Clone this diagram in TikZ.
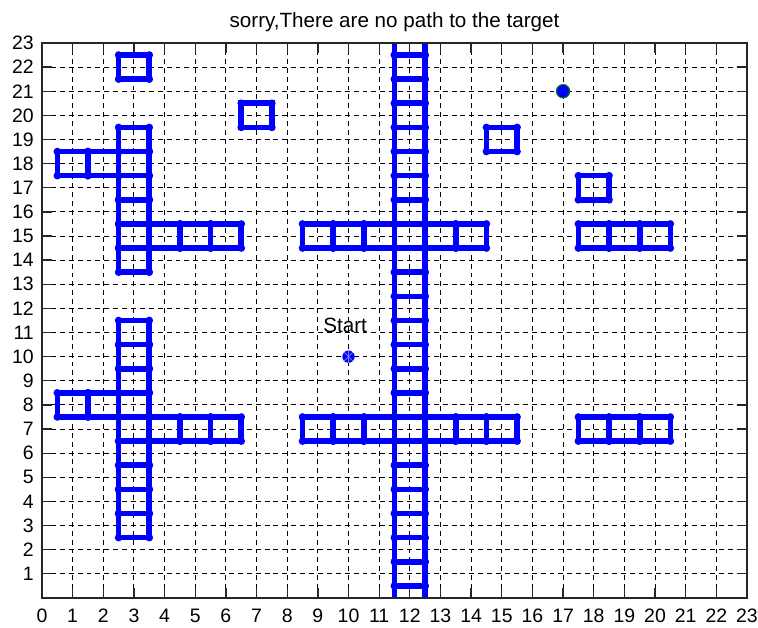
\documentclass[tikz,border=0pt]{standalone}
\usepackage{fontspec}
\setmainfont{Liberation Sans}
\usetikzlibrary{positioning}
\usepackage{xcolor}
\definecolor{PlotBlue}{HTML}{0000FF}
\definecolor{PlotGreen}{HTML}{008000}
\definecolor{PlotLightBlue}{HTML}{8080FF}
\definecolor{AxisGrey}{HTML}{262626}
\tikzset{
    % Axes and grid
    gridline/.style={
        draw=black,
        line width=0.85pt,
        dash pattern=on 4.2pt off 3.4pt
    },
    axisbox/.style={
        draw=AxisGrey,
        line width=1.1pt
    },
    tickmark/.style={
        draw=AxisGrey,
        line width=1.1pt
    },
    ticklabel/.style={
        inner sep=0pt,
        font=\fontsize{16.6}{18}\selectfont
    },
    titletext/.style={
        inner sep=0pt,
        font=\fontsize{17.6}{20}\selectfont
    },
    % Obstacle cells
    obstacle/.style={
        draw=PlotBlue,
        line width=4.8pt
    },
    cornerdot/.style={
        fill=PlotBlue
    },
    % Start and target markers
    startmark/.style={
        circle,
        fill=PlotBlue,
        minimum size=0.37cm,
        inner sep=0pt
    },
    targetmark/.style={
        circle,
        draw=PlotGreen,
        fill=PlotBlue,
        line width=0.9pt,
        minimum size=0.4cm,
        inner sep=0pt
    }
}

\begin{document}
\begin{tikzpicture}[x=0.9195cm, y=0.7239cm]
    \useasboundingbox (-1.370,-1.243) rectangle (23.36,24.78);

    % grid
    \foreach \i in {1,...,22} {
        \draw[gridline] (\i,0) -- (\i,23);
        \draw[gridline] (0,\i) -- (23,\i);
    }

    % obstacles
    \begin{scope}
        \clip (0,0) rectangle (23,23);
        \foreach \cx/\cy in {3/22, 7/20, 15/19, 18/17,
                             1/18, 2/18, 3/14, 3/15, 3/16, 3/17, 3/18, 3/19, 4/15, 5/15, 6/15,
                             1/8, 2/8, 3/3, 3/4, 3/5, 3/6, 3/7, 3/8, 3/9, 3/10, 3/11, 4/7, 5/7, 6/7,
                             12/0, 12/1, 12/2, 12/3, 12/4, 12/5, 12/6, 12/7, 12/8, 12/9, 12/10, 12/11,
                             12/12, 12/13, 12/14, 12/15, 12/16, 12/17, 12/18, 12/19, 12/20, 12/21, 12/22, 12/23,
                             9/15, 10/15, 11/15, 13/15, 14/15,
                             9/7, 10/7, 11/7, 13/7, 14/7, 15/7,
                             18/15, 19/15, 20/15, 18/7, 19/7, 20/7} {
            \draw[obstacle] (\cx-0.5,\cy-0.5) rectangle (\cx+0.5,\cy+0.5);
            \foreach \dx/\dy in {-0.5/-0.5, 0.5/-0.5, 0.5/0.5, -0.5/0.5}
                \fill[cornerdot] (\cx+\dx,\cy+\dy) circle (0.115cm);
        }
    \end{scope}

    % start and target
    \node[startmark] (start) at (10,10) {};
    \draw[PlotLightBlue, line width=0.6pt] (start.north) -- (start.south)
        (start.north east) -- (start.south west) (start.north west) -- (start.south east);
    \node[ticklabel, font=\fontsize{17.6}{20}\selectfont, anchor=base west] (startlabel) at (9.17,11.02) {Start};
    \node[targetmark] (target) at (17,21) {};

    % title
    \node[titletext, anchor=base] (title) at (11.5,23.66) {sorry,There are no path to the target};

    % axes box and ticks
    \draw[axisbox] (0,0) rectangle (23,23);
    \foreach \i in {1,...,22} {
        \draw[tickmark] (\i,0) -- (\i,0.414);
        \draw[tickmark] (\i,23) -- (\i,22.586);
        \draw[tickmark] (0,\i) -- (0.326,\i);
        \draw[tickmark] (23,\i) -- (22.674,\i);
    }
    \foreach \i in {0,...,23}
        \node[ticklabel] (xl\i) at (\i,-0.725) {\i};
    \foreach \i in {1,...,23}
        \node[ticklabel, anchor=east] (yl\i) at (-0.26,\i) {\i};
\end{tikzpicture}
\end{document}
